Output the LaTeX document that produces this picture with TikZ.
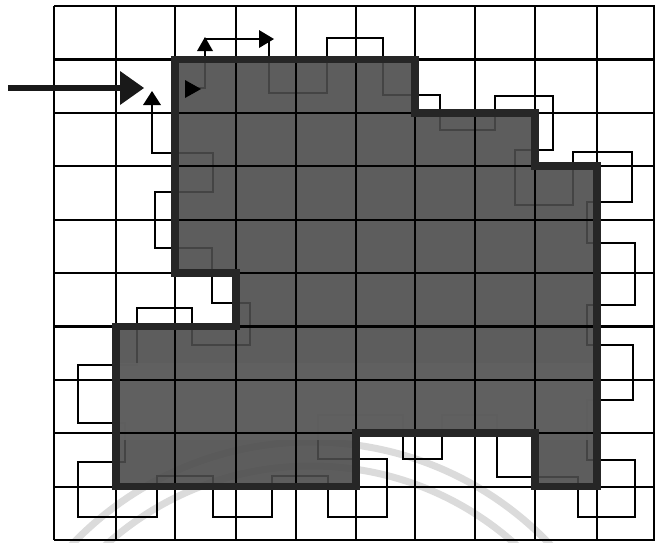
\documentclass[tikz,border=0pt]{standalone}
\begin{document}
\begin{tikzpicture}[x=1pt,y=-1pt,
  gridline/.style={line width=2.2pt,black},
  traceline/.style={line width=2.2pt,black,line join=miter},
  borderline/.style={line width=7.5pt,black!85,line join=miter},
  wmark/.style={line width=7pt,black!14},
  headfill/.style={fill=black}]
\useasboundingbox (0,0) rectangle (655,542);
\fill[white] (0,0) rectangle (655,542);
\def\shapepath{(175,59.4) -- (415,59.4) -- (415,112.8) -- (535,112.8) -- (535,166.2) -- (597,166.2) -- (597,486.6) -- (535,486.6) -- (535,433.2) -- (356,433.2) -- (356,486.6) -- (116,486.6) -- (116,326.4) -- (236,326.4) -- (236,273) -- (175,273) -- cycle}
% watermark arcs
\begin{scope}
  \clip (0,0) rectangle (655,542);
  \draw[wmark] (311,772) circle[radius=330];
  \draw[wmark] (311,772) circle[radius=306];
\end{scope}
% tracing path (its inner parts show faintly through the shading)
\draw[traceline] (198,88) -- (205,88) -- (205,39) -- (269,39) -- (269,93) -- (327,93) -- (327,38) -- (383,38) -- (383,95) -- (440,95) -- (440,130) -- (495,130) -- (495,96) -- (553,96) -- (553,150) -- (515,150) -- (515,205) -- (573,205) -- (573,152) -- (632,152) -- (632,202) -- (587,202) -- (587,243) -- (635,243) -- (635,305) -- (587,305) -- (587,345) -- (633,345) -- (633,400) -- (587,400) -- (587,460) -- (635,460) -- (635,517) -- (578,517) -- (578,477) -- (497,477) -- (497,415) -- (442,415) -- (442,459) -- (403,459) -- (403,415) -- (318,415) -- (318,459) -- (387,459) -- (387,517) -- (328,517) -- (328,476) -- (272,476) -- (272,517) -- (213,517) -- (213,476) -- (157,476) -- (157,517) -- (78,517) -- (78,462) -- (125,462) -- (125,423) -- (78,423) -- (78,365) -- (137,365) -- (137,308) -- (192,308) -- (192,345) -- (250,345) -- (250,303) -- (212,303) -- (212,248) -- (155,248) -- (155,192) -- (213,192) -- (213,153) -- (152,153) -- (152,104);
% shaded region
\fill[black!70,fill opacity=0.9] \shapepath;
\begin{scope}
  \clip \shapepath;
  \fill[black!62,fill opacity=0.9] (100,363) rectangle (610,440);
\end{scope}
% grid
\foreach \gx in {54,116,175,236,296,356,415,475,535,597,654}
  \draw[gridline] (\gx,6) -- (\gx,540);
\foreach \gy in {6,59.4,112.8,166.2,219.6,273,326.4,379.8,433.2,486.6,540}
  \draw[gridline] (54,\gy) -- (655,\gy);
% border of the region
\draw[borderline] \shapepath;
% arrowheads on the path
\fill[headfill] (197,51) -- (205,37) -- (213,51) -- cycle;
\fill[headfill] (259,30) -- (274,39) -- (259,48) -- cycle;
\fill[headfill] (143,105) -- (152,91) -- (161,105) -- cycle;
\fill[headfill] (185,80) -- (201,89) -- (185,98) -- cycle;
% entry arrow
\draw[line width=6.5pt,black!90] (8,88) -- (124,88);
\fill[black!90] (120,71) -- (144,88) -- (120,105) -- cycle;
\end{tikzpicture}
\end{document}
